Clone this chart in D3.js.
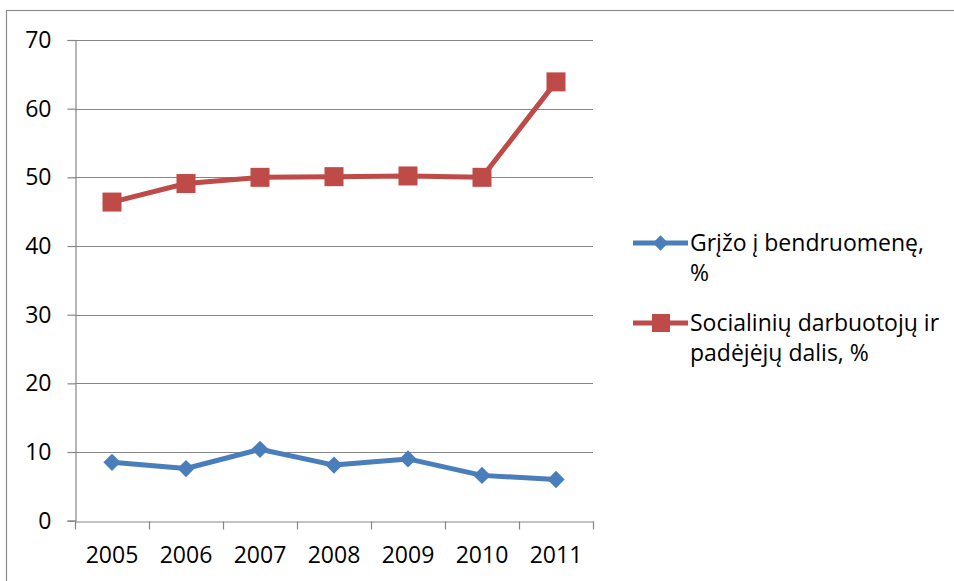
<!DOCTYPE html>
<html>
<head>
<meta charset="utf-8">
<script src="https://cdn.jsdelivr.net/npm/d3@7"></script>
<style>
  body { margin: 0; background: white; }
</style>
</head>
<body>
<div id="chart"></div>
<script>
let years = ["2005", "2006", "2007", "2008", "2009", "2010", "2011"];
let grizo = [8.5, 7.6, 10.4, 8.1, 9.0, 6.6, 6.0];
let socialiniu = [46.4, 49.1, 50.0, 50.1, 50.2, 50.0, 63.9];
let seriesNames = [["Grįžo į bendruomenę,", "%"], ["Socialinių darbuotojų ir", "padėjėjų dalis, %"]];
let yTicks = [0, 10, 20, 30, 40, 50, 60, 70];

let w = 954;
let h = 581;
let blue = "#4a7ebb";
let red = "#be4b48";
let grid = "#868686";
let font = "'Open Sans', sans-serif";
let fs = 23;

let svg = d3.select("#chart")
  .append("svg")
    .attr("width", w)
    .attr("height", h)
    .style("font-family", font);

// outer frame (runs off the right and bottom edges)
svg.append("rect")
  .attr("x", 6.5).attr("y", 10.5)
  .attr("width", 1000).attr("height", 600)
  .attr("fill", "white")
  .attr("stroke", "#8c8c8c")
  .attr("stroke-width", 1.2);

let x = d3.scaleBand().domain(years).range([75, 593]);
let y = d3.scaleLinear().domain([0, 70]).range([520.7, 40]);

// gridlines
svg.append("g")
  .selectAll("line")
  .data(yTicks.filter(d => d > 0))
  .enter()
  .append("line")
    .attr("x1", 75).attr("x2", 593)
    .attr("y1", d => Math.round(y(d)) + 0.5)
    .attr("y2", d => Math.round(y(d)) + 0.5)
    .attr("stroke", grid)
    .attr("stroke-width", 1.2);

// y axis
let yAxis = svg.append("g")
  .attr("transform", "translate(75.5,0)")
  .call(d3.axisLeft(y).tickValues(yTicks).tickSize(8).tickPadding(16));
yAxis.select(".domain").attr("stroke", grid).attr("stroke-width", 1.2);
yAxis.selectAll(".tick line").attr("stroke", grid).attr("stroke-width", 1.2);
yAxis.selectAll("text")
  .attr("font-family", font)
  .attr("font-size", fs)
  .attr("fill", "black");

// x axis
let xAxis = svg.append("g")
  .attr("transform", "translate(0," + (Math.round(y(0)) + 0.5) + ")")
  .call(d3.axisBottom(x).tickSize(0).tickPadding(25));
xAxis.select(".domain").attr("stroke", grid).attr("stroke-width", 1.2);
xAxis.selectAll("text")
  .attr("font-family", font)
  .attr("font-size", fs)
  .attr("fill", "black");
// category boundary ticks
xAxis.selectAll(".bt")
  .data(years.concat(["end"]))
  .enter()
  .append("line")
    .attr("x1", (d, i) => Math.round(75 + i * x.bandwidth()) + 0.5)
    .attr("x2", (d, i) => Math.round(75 + i * x.bandwidth()) + 0.5)
    .attr("y1", 0).attr("y2", 8)
    .attr("stroke", grid)
    .attr("stroke-width", 1.2);

let cx = d => x(d) + x.bandwidth() / 2;
let line = d3.line().x((d, i) => cx(years[i])).y(d => y(d));

// red series
svg.append("path")
  .datum(socialiniu)
  .attr("d", line)
  .attr("fill", "none")
  .attr("stroke", red)
  .attr("stroke-width", 5)
  .attr("stroke-linejoin", "round");
svg.selectAll(".sq")
  .data(socialiniu)
  .enter()
  .append("rect")
    .attr("x", (d, i) => cx(years[i]) - 9.5)
    .attr("y", d => y(d) - 9.5)
    .attr("width", 19).attr("height", 19)
    .attr("fill", red);

// blue series
svg.append("path")
  .datum(grizo)
  .attr("d", line)
  .attr("fill", "none")
  .attr("stroke", blue)
  .attr("stroke-width", 5)
  .attr("stroke-linejoin", "round");
let diamond = d3.symbol().type(d3.symbolDiamond2).size(190);
svg.selectAll(".dm")
  .data(grizo)
  .enter()
  .append("path")
    .attr("d", diamond)
    .attr("transform", (d, i) => "translate(" + cx(years[i]) + "," + y(d) + ")")
    .attr("fill", blue);

// legend
let legendY = [243, 323];
let colors = [blue, red];
seriesNames.forEach(function(lines, k) {
  let g = svg.append("g").attr("transform", "translate(0," + legendY[k] + ")");
  g.append("line")
    .attr("x1", 633).attr("x2", 688)
    .attr("y1", 0).attr("y2", 0)
    .attr("stroke", colors[k])
    .attr("stroke-width", 5);
  if (k == 0) {
    g.append("path")
      .attr("d", d3.symbol().type(d3.symbolDiamond2).size(150))
      .attr("transform", "translate(660.5,0)")
      .attr("fill", colors[k]);
  } else {
    g.append("rect")
      .attr("x", 652).attr("y", -9)
      .attr("width", 18).attr("height", 18)
      .attr("fill", colors[k]);
  }
  lines.forEach(function(t, j) {
    g.append("text")
      .text(t)
      .attr("x", 690)
      .attr("y", 8 + j * 30)
      .attr("font-family", font)
      .attr("font-size", fs)
      .attr("fill", "black");
  });
});
</script>
</body>
</html>
